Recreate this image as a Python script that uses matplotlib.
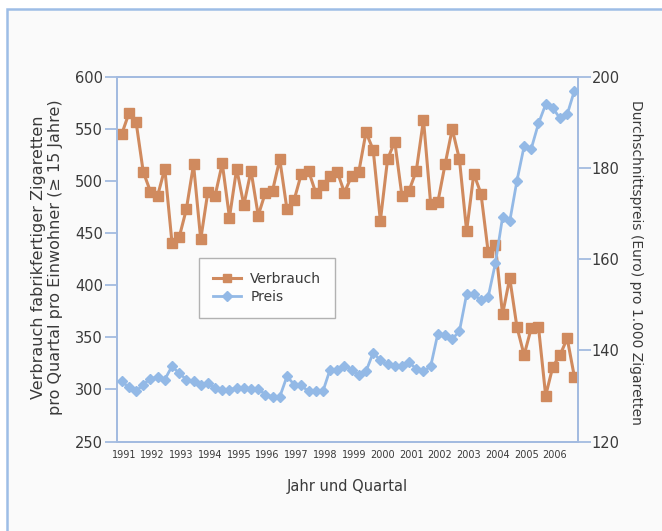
import matplotlib
matplotlib.use("Agg")
import matplotlib.pyplot as plt
from matplotlib.lines import Line2D
from matplotlib.patches import Rectangle

years = [str(y) for y in range(1991, 2007)]
verbrauch = [545, 565, 557, 509, 490, 486, 512, 441, 446, 473,
             516, 444, 490, 486, 517, 465, 512, 477, 510, 467,
             489, 491, 521, 473, 482, 507, 510, 489, 496, 505,
             509, 489, 505, 509, 547, 530, 462, 521, 538, 486,
             491, 510, 559, 478, 480, 516, 550, 521, 452, 507,
             488, 432, 439, 372, 407, 360, 333, 359, 360, 294,
             322, 333, 349, 312]
preis = [133.2, 131.9, 131.0, 132.5, 133.8, 134.1, 133.6, 136.5, 135.0, 133.6,
         133.2, 132.3, 132.9, 131.7, 131.4, 131.4, 131.7, 131.7, 131.5, 131.5,
         130.3, 129.8, 129.8, 134.3, 132.5, 132.3, 131.0, 131.0, 131.0, 135.8,
         135.8, 136.5, 135.8, 134.5, 135.4, 139.5, 137.8, 136.9, 136.5, 136.5,
         137.4, 135.9, 135.4, 136.5, 143.7, 143.4, 142.5, 144.2, 152.3, 152.3,
         151.0, 151.7, 159.1, 169.2, 168.3, 177.2, 184.8, 184.3, 189.8, 194.0,
         193.2, 190.9, 191.8, 197.0]
left_ticks = [250, 300, 350, 400, 450, 500, 550, 600]
right_ticks = [120, 140, 160, 180, 200]

c_verb = "#d08a5e"
c_preis = "#93b9e6"
c_axis = "#a3bbe0"
c_text = "#3a3a3a"

W, H = 662, 531
fig = plt.figure(figsize=(W / 100, H / 100), dpi=100)
fig.patch.set_facecolor("white")
# outer frame
frame = Rectangle((7 / W, -0.05), 1.1, 1 - 9 / H + 0.05, transform=fig.transFigure,
                  facecolor="#fafafa", edgecolor="#9dbde6", linewidth=1.8, zorder=-10)
fig.add_artist(frame)

ax = fig.add_axes([117 / W, (H - 441.5) / H, (578 - 117) / W, (441.5 - 77) / H])
ax.set_facecolor("none")
ax2 = ax.twinx()
ax2.set_facecolor("none")

x = list(range(len(verbrauch)))
ax.plot(x, verbrauch, color=c_verb, lw=2.2, marker="s", ms=7.5, mec=c_verb, mfc=c_verb, zorder=3)
ax2.plot(x, preis, color=c_preis, lw=2.0, marker="D", ms=5.5, mec=c_preis, mfc=c_preis, zorder=3)

ax.set_xlim(-0.65, 63.5)
ax.set_ylim(250, 600)
ax2.set_ylim(120, 200)
ax.set_yticks(left_ticks)
ax2.set_yticks(right_ticks)
ax.set_xticks([i * 4 + 0.3 for i in range(len(years))])
ax.set_xticklabels(years)

for a in (ax, ax2):
    for s in a.spines.values():
        s.set_color(c_axis)
        s.set_linewidth(1.3)
ax.tick_params(axis="x", length=0, pad=6, labelsize=7, labelcolor=c_text)
ax.tick_params(axis="y", length=9, width=1.3, color=c_axis, pad=1, labelsize=10.5, labelcolor=c_text)
ax2.tick_params(axis="y", length=9, width=1.3, color=c_axis, pad=1, labelsize=10.5, labelcolor=c_text)

fig.text(47 / W, 1 - 257 / H, "Verbrauch fabrikfertiger Zigaretten\npro Quartal pro Einwohner (≥ 15 Jahre)",
         rotation=90, ha="center", va="center", fontsize=11.5, color=c_text, linespacing=1.2)
fig.text(636 / W, 1 - 262 / H, "Durchschnittspreis (Euro) pro 1.000 Zigaretten",
         rotation=270, ha="center", va="center", fontsize=10, color=c_text)
fig.text(347 / W, 1 - 487 / H, "Jahr und Quartal", ha="center", va="center", fontsize=10.5, color=c_text)

handles = [Line2D([], [], color=c_verb, lw=2.2, marker="s", ms=6, mec=c_verb),
           Line2D([], [], color=c_preis, lw=2.0, marker="D", ms=5, mec=c_preis)]
leg = fig.legend(handles, ["Verbrauch", "Preis"], loc="upper left",
                 bbox_to_anchor=(199 / W, 1 - 258 / H), frameon=True, fancybox=False,
                 fontsize=10, handlelength=2.0, borderpad=1.0, labelspacing=0.3,
                 borderaxespad=0, handletextpad=0.7)
leg.get_frame().set_edgecolor("#a0a0a0")
leg.get_frame().set_linewidth(1.0)
for t in leg.get_texts():
    t.set_color(c_text)

fig.savefig("out.png", dpi=100, facecolor=fig.get_facecolor())
